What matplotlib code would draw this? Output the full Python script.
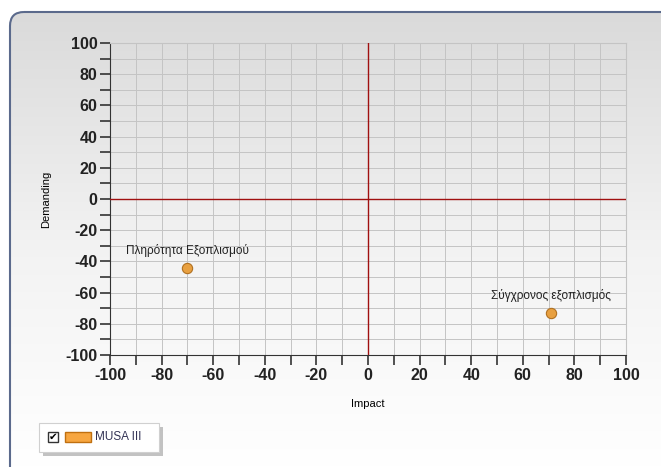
import numpy as np
import matplotlib.pyplot as plt
from matplotlib.patches import FancyBboxPatch, Rectangle
from matplotlib.colors import LinearSegmentedColormap

# data
impact = [-70, 71]
demanding = [-44, -73]
labels = ['Πληρότητα Εξοπλισμού', 'Σύγχρονος εξοπλισμός']
series_name = 'MUSA III'

plt.rcParams['font.family'] = ['Liberation Sans Narrow', 'Liberation Sans', 'DejaVu Sans']
plt.rcParams['axes.unicode_minus'] = False

fig = plt.figure(figsize=(6.61, 4.67), dpi=100)
fig.patch.set_facecolor('white')

# background panel with gradient
bg = fig.add_axes([0, 0, 1, 1], zorder=-10)
bg.axis('off')
grad = np.linspace(0, 1, 256).reshape(-1, 1)
cm = LinearSegmentedColormap.from_list('g', ['#dadada', '#f2f2f2', '#ffffff'])
panel = FancyBboxPatch((10, 12), 690, 480, boxstyle='round,pad=0,rounding_size=14',
                       facecolor='none', edgecolor='#5b6a8c', linewidth=1.5)
bg.add_patch(panel)
im = bg.imshow(grad, aspect='auto', cmap=cm, extent=(10, 700, 467, 12), zorder=0)
im.set_clip_path(panel)
panel.set_zorder(1)
bg.set_xlim(0, 661)
bg.set_ylim(467, 0)

ax = fig.add_axes([110 / 661, (467 - 355) / 467, 516 / 661, 312 / 467])
ax.set_facecolor('none')
ax.scatter(impact, demanding, s=55, color='#e8a040', edgecolor='#b07020', linewidth=0.8, zorder=5)
for x, y, t in zip(impact, demanding, labels):
    ax.annotate(t, (x, y), xytext=(0, 8), textcoords='offset points', ha='center',
                va='bottom', fontsize=8.5, color='#222222',
                family=['Liberation Sans', 'DejaVu Sans'])

ax.axhline(0, color='#a01010', lw=1, zorder=3)
ax.axvline(0, color='#a01010', lw=1, zorder=3)

ax.set_xlim(-100, 100)
ax.set_ylim(-100, 100)
ax.set_xticks(np.arange(-100, 101, 20))
ax.set_yticks(np.arange(-100, 101, 20))
ax.set_xticks(np.arange(-100, 101, 10), minor=True)
ax.set_yticks(np.arange(-100, 101, 10), minor=True)
ax.grid(True, which='both', color='#c4c4c4', lw=0.7)
ax.set_axisbelow(True)
ax.tick_params(which='both', length=7, width=1.2, color='#333333', labelsize=11.5, pad=2)
for lab in ax.get_xticklabels() + ax.get_yticklabels():
    lab.set_fontweight('bold')
    lab.set_color('#222222')
for s in ax.spines.values():
    s.set_color('#c4c4c4')
ax.spines['left'].set_color('#333333')
ax.spines['bottom'].set_color('#333333')

ax.set_xlabel('Impact', fontsize=8, labelpad=12)
ax.set_ylabel('Demanding', fontsize=8, labelpad=10)

# legend box
bg.add_patch(Rectangle((43, 427), 120, 29, facecolor='#888888', edgecolor='none', alpha=0.5, zorder=2))
bg.add_patch(Rectangle((39, 423), 120, 29, facecolor='white', edgecolor='#d0d0d0', lw=0.8, zorder=3))
bg.add_patch(Rectangle((48, 432), 10, 10, facecolor='white', edgecolor='#333333', lw=1, zorder=4))
bg.text(53, 437, '✔', ha='center', va='center', fontsize=7.5,
        family=['DejaVu Sans'], zorder=5)
bg.add_patch(Rectangle((65, 432), 26, 10, facecolor='#f7a640', edgecolor='#c07010', lw=1, zorder=4))
bg.text(95, 437, series_name, ha='left', va='center', fontsize=8.5, color='#333355', zorder=5)

fig.savefig('out.png', dpi=100)
